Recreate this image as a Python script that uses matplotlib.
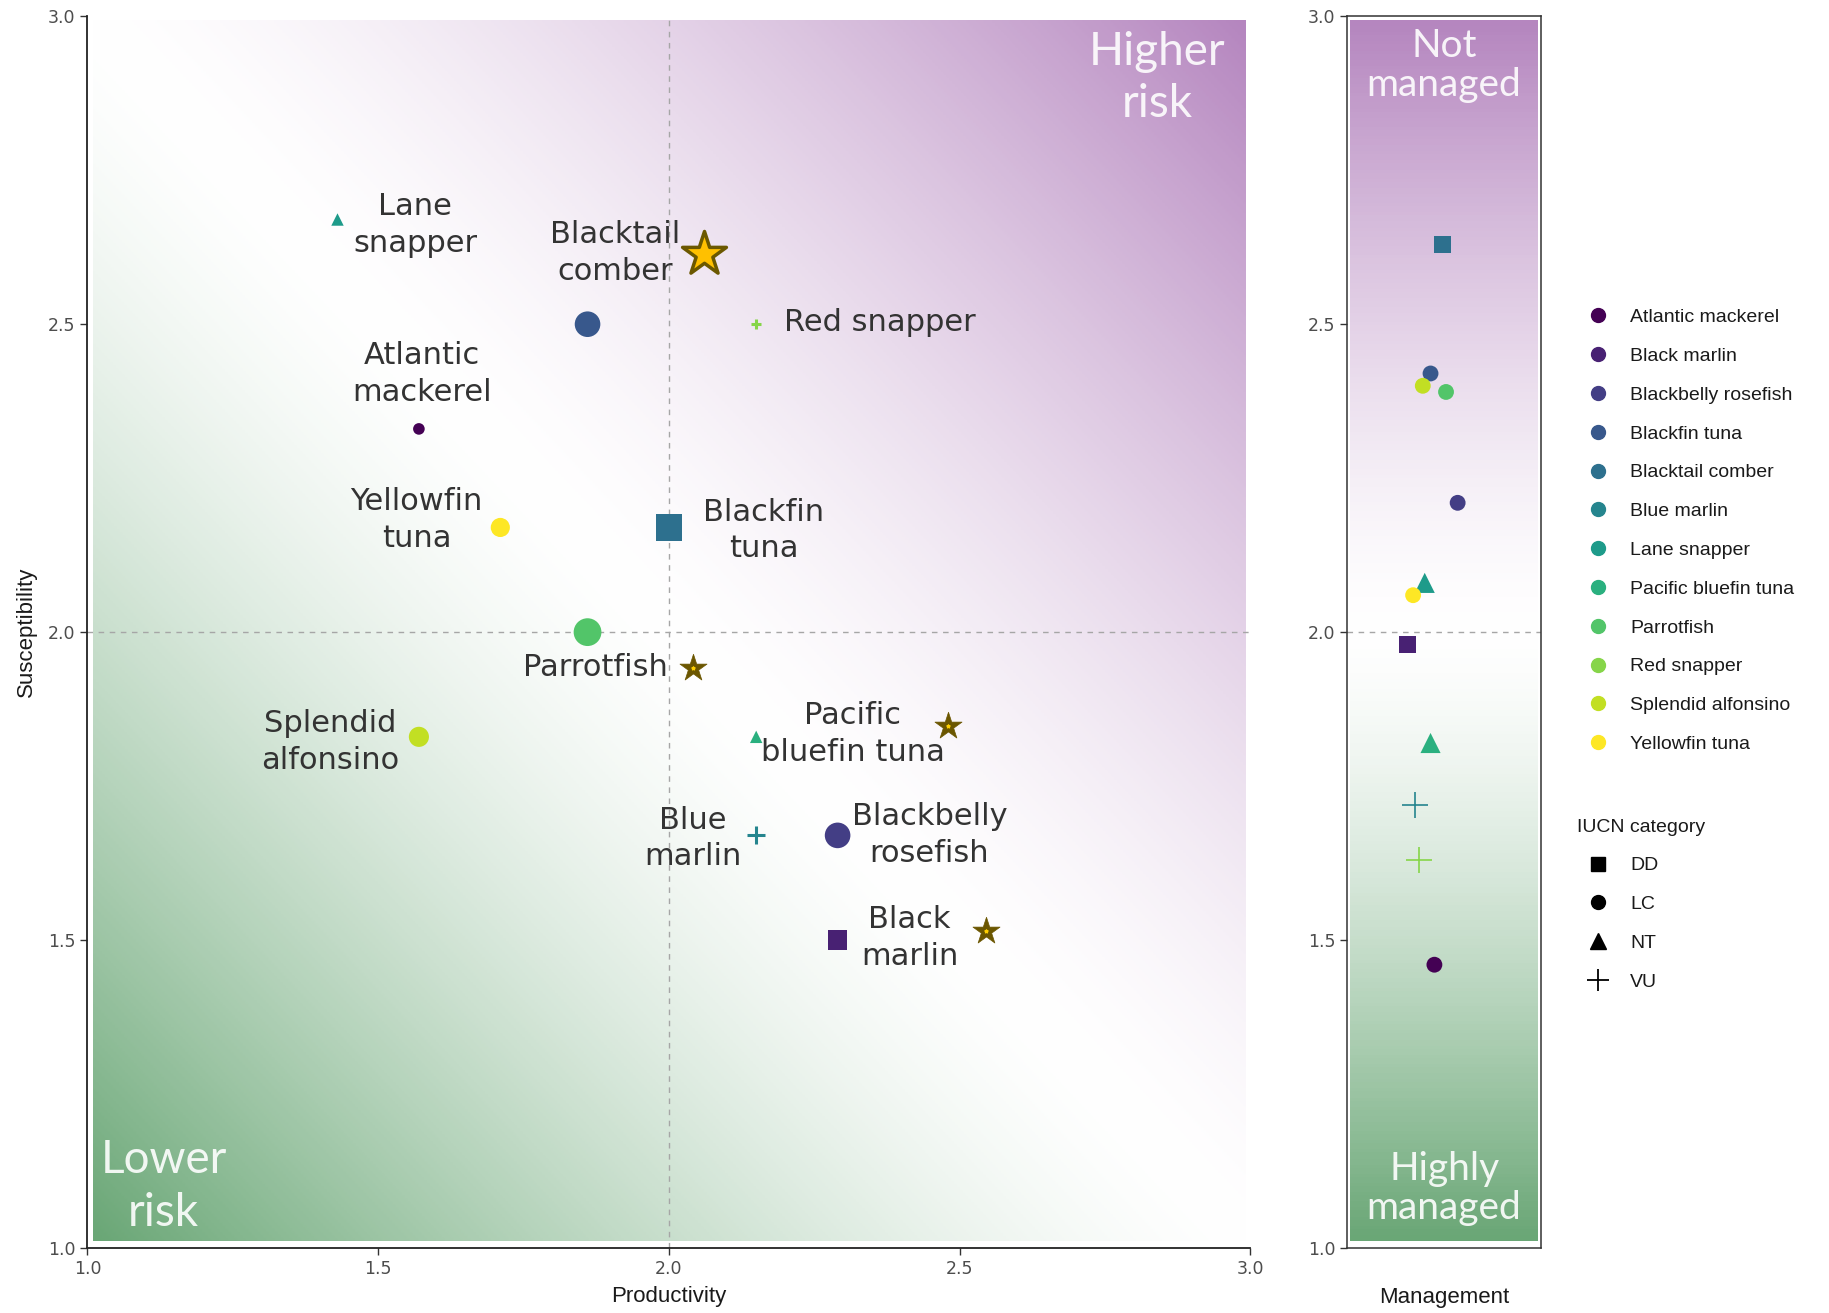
import numpy as np
import matplotlib

matplotlib.use("Agg")
import matplotlib.pyplot as plt
from matplotlib.colors import LinearSegmentedColormap, to_rgb
from matplotlib.lines import Line2D

# species in legend order, with IUCN category
species = [
    "Atlantic mackerel", "Black marlin", "Blackbelly rosefish", "Blackfin tuna",
    "Blacktail comber", "Blue marlin", "Lane snapper", "Pacific bluefin tuna",
    "Parrotfish", "Red snapper", "Splendid alfonsino", "Yellowfin tuna",
]
iucn = ["LC", "DD", "LC", "LC", "DD", "VU", "NT", "NT", "LC", "VU", "LC", "LC"]

# left panel: productivity / susceptibility
productivity = [1.57, 2.29, 2.29, 1.86, 2.00, 2.15, 1.43, 2.15, 1.86, 2.15, 1.57, 1.71]
susceptibility = [2.33, 1.50, 1.67, 2.50, 2.17, 1.67, 2.67, 1.83, 2.00, 2.50, 1.83, 2.17]
point_area = [70, 200, 340, 340, 370, 180, 80, 80, 400, 60, 210, 190]

# right panel: management score (with horizontal jitter)
management = [1.46, 1.98, 2.21, 2.42, 2.63, 1.72, 2.08, 1.82, 2.39, 1.63, 2.40, 2.06]
mgmt_jitter = [0.45, 0.31, 0.57, 0.43, 0.49, 0.35, 0.40, 0.43, 0.51, 0.37, 0.39, 0.34]

# hand placed labels on the left panel
label_text = [
    "Lane\nsnapper", "Blacktail\ncomber", "Atlantic\nmackerel", "Yellowfin\ntuna",
    "Blackfin\ntuna", "Parrotfish", "Splendid\nalfonsino", "Pacific\nbluefin tuna",
    "Blue\nmarlin", "Blackbelly\nrosefish", "Black\nmarlin",
]
label_x = [1.564, 1.907, 1.576, 1.566, 2.163, 1.873, 1.417, 2.316, 2.041, 2.448, 2.414]
label_y = [2.661, 2.616, 2.419, 2.182, 2.165, 1.943, 1.822, 1.835, 1.665, 1.670, 1.504]

# stars
star_x = [2.061, 2.041, 2.480, 2.545]
star_y = [2.614, 1.941, 1.848, 1.515]
star_major = [True, False, False, False]

markers = {"DD": "s", "LC": "o", "NT": "^", "VU": "+"}
colors = plt.cm.viridis(np.linspace(0, 1, len(species)))


def soft_diverging(low, high, gamma=1.5, n=64):
    # white in the middle, fading out slowly towards the two ends
    lo, hi, white = np.array(to_rgb(low)), np.array(to_rgb(high)), np.ones(3)
    stops = []
    for t in np.linspace(0, 1, n):
        d = abs(2 * t - 1) ** gamma
        end = lo if t < 0.5 else hi
        stops.append((t, tuple(white * (1 - d) + end * d)))
    return LinearSegmentedColormap.from_list("risk", stops)


risk_cmap = soft_diverging("#6aa776", "#b586bf", gamma=1.45)

TICK_COLOR = "#4d4d4d"
LABEL_FONT = "DejaVu Sans"
ZONE_FONT = "Lato"

fig = plt.figure(figsize=(18.29, 13.13), dpi=100)
ax = fig.add_axes([0.0478, 0.0495, 0.6359, 0.9381])
axr = fig.add_axes([0.7366, 0.0495, 0.1059, 0.9381])

# ---- left panel: risk plane ----
gx, gy = np.meshgrid(np.linspace(1, 3, 400), np.linspace(1, 3, 400))
ax.imshow((gx - 1 + gy - 1) / 4.0, cmap=risk_cmap, origin="lower",
          extent=(1.01, 2.992, 1.011, 2.992), aspect="auto", zorder=0)
ax.axvline(2.0, color="#a6a6a6", lw=1, ls=(0, (4, 4)), zorder=1)
ax.axhline(2.0, color="#a6a6a6", lw=1, ls=(0, (4, 4)), zorder=1)

for i, name in enumerate(species):
    m = markers[iucn[i]]
    kw = dict(linewidths=2.2) if m == "+" else dict(edgecolors="none")
    ax.scatter(productivity[i], susceptibility[i], s=point_area[i], marker=m,
               color=colors[i], zorder=3, **kw)

for sx, sy, major in zip(star_x, star_y, star_major):
    if major:
        ax.scatter(sx, sy, s=1100, marker="*", color="#ffc000",
                   edgecolors="#6b5800", linewidths=2.5, zorder=4)
    else:
        ax.scatter(sx, sy, s=420, marker="*", color="#6b5600",
                   edgecolors="#6b5600", linewidths=0.5, zorder=4)
        ax.scatter(sx, sy, s=6, marker="*", color="#ffd000", zorder=5)

for text, tx, ty in zip(label_text, label_x, label_y):
    ax.text(tx, ty, text, ha="center", va="center", fontsize=22,
            family=LABEL_FONT, color="#333333", linespacing=1.34, zorder=5)
ax.text(2.198, 2.502, "Red snapper", ha="left", va="center", fontsize=22,
        family=LABEL_FONT, color="#333333", zorder=5)

ax.text(2.84, 2.90, "Higher\nrisk", ha="center", va="center", fontsize=33,
        family=ZONE_FONT, color="white", alpha=0.9, linespacing=1.3)
ax.text(1.131, 1.10, "Lower\nrisk", ha="center", va="center", fontsize=33,
        family=ZONE_FONT, color="white", alpha=0.9, linespacing=1.3)

ax.set_xlim(1, 3)
ax.set_ylim(1, 3)
ax.set_xticks([1.0, 1.5, 2.0, 2.5, 3.0])
ax.set_yticks([1.0, 1.5, 2.0, 2.5, 3.0])
ax.set_xticklabels(["1.0", "1.5", "2.0", "2.5", "3.0"])
ax.set_yticklabels(["1.0", "1.5", "2.0", "2.5", "3.0"])
ax.spines["top"].set_visible(False)
ax.spines["right"].set_visible(False)
for side in ("left", "bottom"):
    ax.spines[side].set_linewidth(1.3)
    ax.spines[side].set_color("#222222")
ax.tick_params(length=5, width=1, color="#333333", labelsize=12.5,
               labelcolor=TICK_COLOR)
ax.set_xlabel("Productivity", fontsize=16, family="Liberation Sans",
              color="#1a1a1a", labelpad=6)
ax.set_ylabel("Susceptibility", fontsize=16, family="Liberation Sans",
              color="#1a1a1a", labelpad=8)

# ---- right panel: management ----
_, my = np.meshgrid(np.linspace(0, 1, 10), np.linspace(1, 3, 400))
axr.imshow((my - 1) / 2.0, cmap=risk_cmap, origin="lower",
           extent=(0.015, 0.985, 1.011, 2.992), aspect="auto", zorder=0)
axr.axhline(2.0, color="#a6a6a6", lw=1, ls=(0, (4, 4)), zorder=1)

right_area = {"DD": 150, "LC": 130, "NT": 210, "VU": 330}
for i, name in enumerate(species):
    m = markers[iucn[i]]
    kw = dict(linewidths=1.2) if m == "+" else dict(edgecolors="none")
    axr.scatter(mgmt_jitter[i], management[i], s=right_area[iucn[i]], marker=m,
                color=colors[i], zorder=3, **kw)

axr.text(0.5, 2.92, "Not\nmanaged", ha="center", va="center", fontsize=28,
         family=ZONE_FONT, color="white", alpha=0.9, linespacing=1.12)
axr.text(0.5, 1.097, "Highly\nmanaged", ha="center", va="center", fontsize=28,
         family=ZONE_FONT, color="white", alpha=0.9, linespacing=1.12)

axr.set_xlim(0, 1)
axr.set_ylim(1, 3)
axr.set_xticks([])
axr.set_yticks([1.0, 1.5, 2.0, 2.5, 3.0])
axr.set_yticklabels(["1.0", "1.5", "2.0", "2.5", "3.0"])
for side in axr.spines.values():
    side.set_linewidth(1.1)
    side.set_color("#333333")
axr.tick_params(axis="y", length=5, width=1, color="#333333", labelsize=12.5,
                labelcolor=TICK_COLOR)
axr.set_xlabel("Management", fontsize=16, family="Liberation Sans",
               color="#1a1a1a", labelpad=28)

# ---- legends ----
legend_font = {"family": "Liberation Sans", "size": 14}
species_handles = [
    Line2D([], [], marker="o", ls="none", color=c, markersize=10, label=n)
    for n, c in zip(species, colors)
]
leg1 = axr.legend(handles=species_handles, loc="upper left",
                  bbox_to_anchor=(0.8622, 0.765), bbox_transform=fig.transFigure,
                  frameon=False, labelspacing=1.09,
                  handlelength=2.16, handletextpad=0.57, borderpad=0,
                  borderaxespad=0, prop=legend_font)
for t in leg1.get_texts():
    t.set_color("#1a1a1a")
axr.add_artist(leg1)

iucn_cats = ["DD", "LC", "NT", "VU"]
iucn_size = {"DD": 10, "LC": 10, "NT": 12, "VU": 16}
iucn_handles = [
    Line2D([], [], marker=markers[c], ls="none", color="black",
           markersize=iucn_size[c], markeredgewidth=1.3 if c == "VU" else 1,
           label=c)
    for c in iucn_cats
]
leg2 = axr.legend(handles=iucn_handles, loc="upper left", title="IUCN category",
                  bbox_to_anchor=(0.8622, 0.3766), bbox_transform=fig.transFigure,
                  frameon=False, labelspacing=1.09, handlelength=2.16,
                  handletextpad=0.57, borderpad=0, borderaxespad=0,
                  alignment="left", prop=legend_font,
                  title_fontproperties=legend_font)
leg2.get_title().set_color("#1a1a1a")
for t in leg2.get_texts():
    t.set_color("#1a1a1a")

fig.savefig("out.png", dpi=100)
